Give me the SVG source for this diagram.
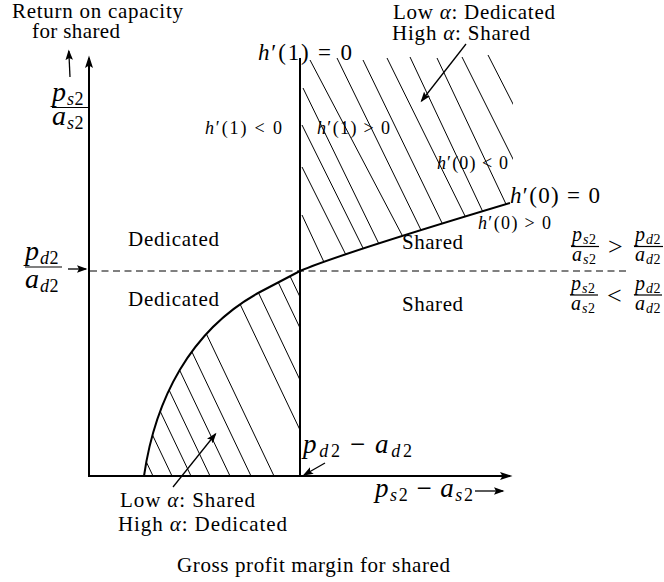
<svg xmlns="http://www.w3.org/2000/svg" width="664" height="582" viewBox="0 0 664 582">
<defs>
<style>
.t{font-family:"Liberation Serif","Times New Roman",serif;fill:#000;font-size:21px}
.i{font-style:italic}
.ax{stroke:#000;stroke-width:2;fill:none}
.ln{stroke:#000;stroke-width:1.3;fill:none}
.h{stroke:#000;stroke-width:1;fill:none}
.d{stroke:#000;stroke-width:1;stroke-dasharray:7 4.5;fill:none}
.cv{stroke:#000;stroke-width:2;fill:none}
.bar{stroke:#000;stroke-width:1.2}
</style>
<marker id="ah" markerUnits="userSpaceOnUse" markerWidth="13" markerHeight="9" refX="10" refY="4.5" orient="auto"><path d="M0,0.5 L12.5,4.5 L0,8.5 L2.5,4.5 z" fill="#000"/></marker>
<marker id="as" markerUnits="userSpaceOnUse" markerWidth="11" markerHeight="8" refX="9" refY="3.75" orient="auto"><path d="M0,0 L10.5,3.75 L0,7.5 L2,3.75 z" fill="#000"/></marker>
<clipPath id="cu"><path d="M298,0 L513,0 L513,203 L510,203 C420,230 330,258 300,271 Z"/></clipPath>
<clipPath id="cl"><path d="M144,476 C155,400 190,330 260,292 L300,271 L300,477 L144,477 Z"/></clipPath>
</defs>
<rect width="664" height="582" fill="#fff"/>

<g id="axes">
<line class="ax" x1="89" y1="477" x2="89" y2="58" marker-end="url(#ah)"/>
<line class="ax" x1="88" y1="476" x2="510" y2="476" marker-end="url(#ah)"/>
<line class="ax" x1="300" y1="58" x2="300" y2="476"/>
<line class="d" x1="90" y1="271" x2="630" y2="271"/>
</g>

<g id="hatch-upper" clip-path="url(#cu)">
<line class="h" x1="303" y1="88" x2="396.75" y2="280.5"/>
<line class="h" x1="302" y1="125" x2="378.25" y2="278.75"/>
<line class="h" x1="302" y1="167" x2="355.75" y2="274.5"/>
<line class="h" x1="302" y1="215" x2="328.25" y2="271.25"/>
<line class="h" x1="310" y1="60" x2="425" y2="278.75"/>
<line class="h" x1="337" y1="58" x2="440.75" y2="270.5"/>
<line class="h" x1="363" y1="60" x2="463" y2="266.25"/>
<line class="h" x1="387" y1="58" x2="487" y2="260.5"/>
<line class="h" x1="410" y1="57" x2="500" y2="248.25"/>
<line class="h" x1="437" y1="58" x2="522" y2="238"/>
<line class="h" x1="462" y1="57" x2="524.5" y2="182"/>
<line class="h" x1="488" y1="55" x2="518" y2="113.75"/>
</g>

<g id="hatch-lower" clip-path="url(#cl)">
<line class="h" x1="153" y1="476" x2="34" y2="226"/>
<line class="h" x1="172" y1="476" x2="53" y2="226"/>
<line class="h" x1="191" y1="476" x2="72" y2="226"/>
<line class="h" x1="210" y1="476" x2="91" y2="226"/>
<line class="h" x1="230" y1="476" x2="111" y2="226"/>
<line class="h" x1="251" y1="476" x2="132" y2="226"/>
<line class="h" x1="274" y1="476" x2="155" y2="226"/>
<line class="h" x1="300" y1="430" x2="190.5" y2="200"/>
<line class="h" x1="300" y1="380" x2="214.3" y2="200"/>
<line class="h" x1="300" y1="328" x2="239" y2="200"/>
<line class="h" x1="300" y1="297" x2="253.8" y2="200"/>
</g>

<g id="boundary">
<path class="cv" d="M144,476 C155,400 190,330 260,292 L300,271 C330,258 420,230 510,203"/>
</g>

<g id="connectors">
<line class="ln" x1="70" y1="77" x2="68.8" y2="51" marker-end="url(#as)"/>
<line class="ln" x1="68" y1="269" x2="86" y2="269" marker-end="url(#as)"/>
<line class="ln" x1="466" y1="44" x2="421.5" y2="101" marker-end="url(#as)"/>
<line class="ln" x1="173" y1="487" x2="215.5" y2="434" marker-end="url(#as)"/>
<line class="ln" x1="325" y1="463" x2="304" y2="475" marker-end="url(#as)"/>
<line class="ln" x1="475" y1="491" x2="503" y2="491" marker-end="url(#as)"/>
</g>

<g id="axis-labels">
<text class="t" x="12" y="18" textLength="171">Return on capacity</text>
<text class="t" x="32" y="38" textLength="88">for shared</text>
<text class="t" x="177" y="572" textLength="273">Gross profit margin for shared</text>
<text class="t" x="52" y="101" style="font-size:28px"><tspan class="i">p</tspan><tspan class="i" font-size="18" dx="1" dy="4">s</tspan><tspan font-size="18" dx="0.5">2</tspan></text>
<line class="bar" x1="52" y1="107.5" x2="88" y2="107.5"/>
<text class="t" x="52" y="125" style="font-size:28px"><tspan class="i">a</tspan><tspan class="i" font-size="18" dx="1" dy="4">s</tspan><tspan font-size="18" dx="0.5">2</tspan></text>
<text class="t" x="25" y="260" style="font-size:28px"><tspan class="i">p</tspan><tspan class="i" font-size="18" dx="1" dy="4">d</tspan><tspan font-size="18" dx="0.5">2</tspan></text>
<line class="bar" x1="25" y1="267" x2="62" y2="267"/>
<text class="t" x="25" y="288" style="font-size:28px"><tspan class="i">a</tspan><tspan class="i" font-size="18" dx="1" dy="4">d</tspan><tspan font-size="18" dx="0.5">2</tspan></text>
<text class="t" x="303" y="453" style="font-size:27px" textLength="109"><tspan class="i">p</tspan><tspan class="i" font-size="18" dy="4">d</tspan><tspan font-size="18">2</tspan><tspan dx="7" dy="-4">−</tspan><tspan class="i" dx="7">a</tspan><tspan class="i" font-size="18" dy="4">d</tspan><tspan font-size="18">2</tspan></text>
<text class="t" x="375" y="497" style="font-size:27px" textLength="98"><tspan class="i">p</tspan><tspan class="i" font-size="18" dy="4">s</tspan><tspan font-size="18">2</tspan><tspan dx="7" dy="-4">−</tspan><tspan class="i" dx="7">a</tspan><tspan class="i" font-size="18" dy="4">s</tspan><tspan font-size="18">2</tspan></text>
</g>

<g id="curve-labels">
<text class="t" x="258" y="60" style="font-size:23px" textLength="94"><tspan class="i">h</tspan>′(1) = 0</text>
<text class="t" x="510" y="203" style="font-size:23px" textLength="90"><tspan class="i">h</tspan>′(0) = 0</text>
<text class="t" x="205" y="134" style="font-size:18px" textLength="77"><tspan class="i">h</tspan>′(1) &lt; 0</text>
<text class="t" x="317" y="134" style="font-size:18px" textLength="73"><tspan class="i">h</tspan>′(1) &gt; 0</text>
<text class="t" x="437" y="169" style="font-size:18px" textLength="71"><tspan class="i">h</tspan>′(0) &lt; 0</text>
<text class="t" x="478" y="229" style="font-size:18px" textLength="73"><tspan class="i">h</tspan>′(0) &gt; 0</text>
</g>

<g id="region-labels">
<text class="t" x="128" y="246" textLength="91">Dedicated</text>
<text class="t" x="128" y="306" textLength="91">Dedicated</text>
<text class="t" x="402" y="249" textLength="61">Shared</text>
<text class="t" x="402" y="311" textLength="61">Shared</text>
<text class="t" x="393" y="19" textLength="162">Low <tspan class="i">α</tspan>: Dedicated</text>
<text class="t" x="392" y="40" textLength="138">High <tspan class="i">α</tspan>: Shared</text>
<text class="t" x="120" y="507" textLength="135">Low <tspan class="i">α</tspan>: Shared</text>
<text class="t" x="118" y="531" textLength="169">High <tspan class="i">α</tspan>: Dedicated</text>
</g>

<g id="ratio-labels">
<text class="t" x="572" y="241" style="font-size:20px"><tspan class="i">p</tspan><tspan class="i" font-size="14" dx="1" dy="3">s</tspan><tspan font-size="14" dx="0.5">2</tspan></text>
<line class="bar" x1="571" y1="246.5" x2="599" y2="246.5"/>
<text class="t" x="572" y="261" style="font-size:20px"><tspan class="i">a</tspan><tspan class="i" font-size="14" dx="1" dy="3">s</tspan><tspan font-size="14" dx="0.5">2</tspan></text>
<text class="t" x="608" y="255" style="font-size:26px">&gt;</text>
<text class="t" x="635" y="241" style="font-size:20px"><tspan class="i">p</tspan><tspan class="i" font-size="14" dx="1" dy="3">d</tspan><tspan font-size="14" dx="0.5">2</tspan></text>
<line class="bar" x1="634" y1="246.5" x2="663" y2="246.5"/>
<text class="t" x="635" y="261" style="font-size:20px"><tspan class="i">a</tspan><tspan class="i" font-size="14" dx="1" dy="3">d</tspan><tspan font-size="14" dx="0.5">2</tspan></text>

<text class="t" x="571" y="290" style="font-size:20px"><tspan class="i">p</tspan><tspan class="i" font-size="14" dx="1" dy="3">s</tspan><tspan font-size="14" dx="0.5">2</tspan></text>
<line class="bar" x1="570" y1="295" x2="598" y2="295"/>
<text class="t" x="571" y="310" style="font-size:20px"><tspan class="i">a</tspan><tspan class="i" font-size="14" dx="1" dy="3">s</tspan><tspan font-size="14" dx="0.5">2</tspan></text>
<text class="t" x="607" y="304" style="font-size:26px">&lt;</text>
<text class="t" x="635" y="290" style="font-size:20px"><tspan class="i">p</tspan><tspan class="i" font-size="14" dx="1" dy="3">d</tspan><tspan font-size="14" dx="0.5">2</tspan></text>
<line class="bar" x1="634" y1="295" x2="662" y2="295"/>
<text class="t" x="635" y="310" style="font-size:20px"><tspan class="i">a</tspan><tspan class="i" font-size="14" dx="1" dy="3">d</tspan><tspan font-size="14" dx="0.5">2</tspan></text>
</g>
</svg>
